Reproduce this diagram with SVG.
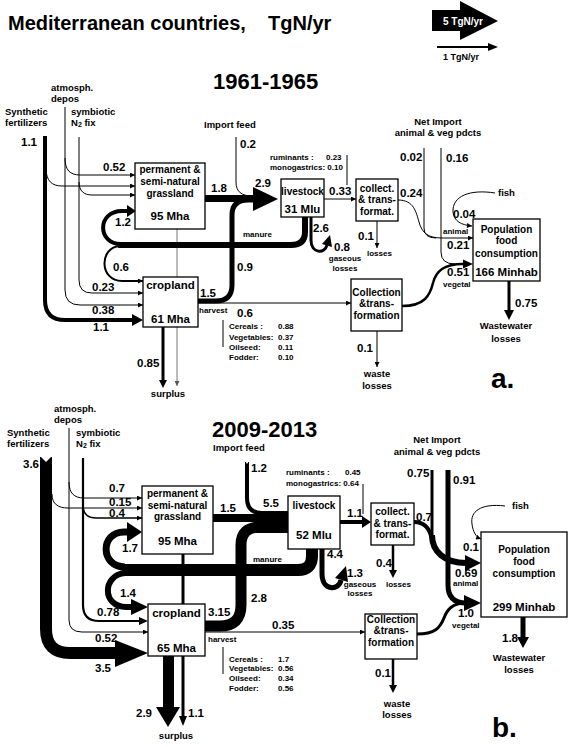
<svg xmlns="http://www.w3.org/2000/svg" width="575" height="747" viewBox="0 0 575 747">
<style>
.t{font-family:"Liberation Sans",Arial,sans-serif;font-weight:bold;fill:#000}
.lb{font-size:11.5px}
.src{font-size:9.5px}
.sm{font-size:8px}
.nd{font-size:10px}
.nn{font-size:11.5px}
.c{text-anchor:middle}
.box{fill:#fff;stroke:#000;stroke-width:1.3}
.ln{fill:none;stroke:#000}
.gr{fill:none;stroke:#777}
</style>
<defs>
<marker id="ah" viewBox="0 0 10 10" refX="10" refY="5" markerWidth="7" markerHeight="5" markerUnits="userSpaceOnUse" orient="auto"><path d="M0,0 L10,5 L0,10 z" fill="#000"/></marker>
<marker id="ahg" viewBox="0 0 10 10" refX="10" refY="5" markerWidth="7" markerHeight="5" markerUnits="userSpaceOnUse" orient="auto"><path d="M0,0 L10,5 L0,10 z" fill="#555"/></marker>
</defs>
<rect width="575" height="747" fill="#fff"/>

<g id="title">
<text class="t" x="8" y="30" font-size="20">Mediterranean countries,</text>
<text class="t" x="268" y="30" font-size="20">TgN/yr</text>
<polygon points="432,10 460,10 460,1 498,21 460,40 460,31 432,31" fill="#000"/>
<text class="t" x="443" y="25" font-size="10" style="fill:#fff">5 TgN/yr</text>
<line x1="437" y1="47" x2="489" y2="47" stroke="#000" stroke-width="2"/>
<polygon points="488,43 498,47 488,51" fill="#000"/>
<text class="t" x="443" y="60" font-size="9">1 TgN/yr</text>
<text class="t" x="213" y="89" font-size="22">1961-1965</text>
<text class="t" x="212" y="437" font-size="22">2009-2013</text>
</g>

<g id="connectors" stroke-width="1">
<!-- panel a -->
<path class="ln" d="M45,136 L45,300 Q45,320 65,320 L133,320" stroke-width="4"/>
<polygon points="132,314 143,320 132,326"/>
<path class="ln" d="M46,168 C46,181 52,186 62,186 L135,186" marker-end="url(#ah)"/>
<path class="ln" d="M65,107 L65,290 Q65,305 80,305 L143,305" marker-end="url(#ah)"/>
<path class="ln" d="M65,158 C65,170 70,175 80,175 L135,175" marker-end="url(#ah)"/>
<path class="ln" d="M79,137 L79,280 Q79,293 92,293 L143,293" marker-end="url(#ah)"/>
<path class="ln" d="M79,182 C79,191 84,195 92,195 L135,195" marker-end="url(#ah)"/>
<rect x="205" y="195" width="49" height="7"/>
<path class="ln" d="M236,137 L236,182 C236,192 242,196 252,196"/>
<path class="ln" d="M198,301 L216,301 Q232,301 232,285 L232,215 Q232,200 248,200 L256,200" stroke-width="5"/>
<polygon points="253,187 278,199 253,211"/>
<path class="ln" d="M198,303 L351,303" marker-end="url(#ah)"/>
<path class="gr" d="M177,229 L177,386" marker-end="url(#ahg)"/>
<path class="ln" d="M163,327 L163,380" stroke-width="3"/>
<polygon points="159,380 163,388 167,380"/>
<path class="ln" d="M324,199 L356,199" marker-end="url(#ah)"/>
<path class="ln" d="M347,155 L347,185"/>
<path class="ln" d="M377,221 L377,248" marker-end="url(#ah)"/>
<path class="ln" d="M398,200 C414,200 416,212 419,222 C422,233 428,238 442,238 L473,238" marker-end="url(#ah)"/>
<path class="ln" d="M424,148 L424,228 Q424,238 436,238"/>
<path class="ln" d="M441,148 L441,252 Q441,264 455,264"/>
<path class="ln" d="M402,306 C425,306 430,295 433,283 C436,271 444,264 463,264" stroke-width="2.5"/>
<polygon points="463,259.5 473,264 463,268.5"/>
<path class="ln" d="M495,193 C470,189 452,196 453,212 C454,221 461,225 472,226" marker-end="url(#ah)"/>
<path class="ln" d="M509,281 L509,311" stroke-width="3"/>
<polygon points="504,310 509,320 514,310"/>
<path class="ln" d="M305,217 L305,232 Q305,245 291,245 L118,245" stroke-width="6"/>
<path class="ln" d="M121,244 C97,244 97,211 122,211 L128,211" stroke-width="4"/>
<polygon points="127,205 136,211 127,217"/>
<path class="ln" d="M120,246 C99,247 99,281 122,281 L143,281" stroke-width="2" marker-end="url(#ah)"/>
<path class="ln" d="M311,217 L311,240 C311,254 325,254 327,245" stroke-width="3"/>
<polygon points="322,244 330,235 332,247"/>
<path class="ln" d="M377,331 L377,367" marker-end="url(#ah)"/>
<path class="ln" d="M223,320 L223,347"/>

<!-- panel b -->
<path class="ln" d="M46,457 L46,629 Q46,653 70,653 L116,653" stroke-width="12"/>
<polygon points="40,456 46,462 52,456" fill="#fff"/>
<polygon points="115,640 148,653 115,667"/>
<path class="ln" d="M52,494 C52,504 58,508 68,508 L142,508" marker-end="url(#ah)"/>
<path class="ln" d="M69,428 L69,620 Q69,632 82,632 L148,632" marker-end="url(#ah)"/>
<path class="ln" d="M69,482 C69,493 74,498 84,498 L142,498" marker-end="url(#ah)"/>
<path class="ln" d="M83,458 L83,605 Q83,621 99,621 L140,621" stroke-width="2.2"/>
<polygon points="139,617 148,621 139,625"/>
<path class="ln" d="M83,505 C83,514 88,518 96,518 L142,518" stroke-width="1.3" marker-end="url(#ah)"/>
<path class="ln" d="M213,518 L258,518" stroke-width="8"/>
<path class="ln" d="M247,462 L247,498 Q247,513 262,513" stroke-width="4"/>
<polygon points="245,461 247,464 249,461" fill="#fff"/>
<rect x="256" y="511" width="33" height="22"/>
<path class="ln" d="M205,626 L220,626 Q241,626 241,605 L241,545 Q241,527 260,527" stroke-width="11"/>
<path class="ln" d="M205,632 L365,632" marker-end="url(#ah)"/>
<path class="ln" d="M183,554 L183,717" stroke-width="3"/>
<polygon points="179,716 183,726 187,716"/>
<rect x="163" y="656" width="11" height="52"/>
<polygon points="156,707 168,727 180,707"/>
<path class="ln" d="M340,522 L363,522" stroke-width="4"/>
<polygon points="362,516 371,522 362,528"/>
<path class="ln" d="M363,484 L363,514"/>
<path class="ln" d="M393,545 L393,571" stroke-width="2.5"/>
<polygon points="389,570 393,578 397,570"/>
<path class="ln" d="M414,522 C424,522 430,528 432,540" stroke-width="4"/>
<path class="ln" d="M432,470 L432,540" stroke-width="3"/>
<path class="ln" d="M432,535 C432,552 445,563 466,563" stroke-width="6"/>
<polygon points="465,555 481,563 465,571"/>
<path class="ln" d="M448,470 L448,585 Q448,603 466,603" stroke-width="5"/>
<path class="ln" d="M417,634 C435,634 440,628 444,618 C447,610 452,603 466,603" stroke-width="3"/>
<polygon points="464,595 481,603 464,611"/>
<path class="ln" d="M505,506 C480,503 470,512 472,524 C473,532 476,537 481,539" marker-end="url(#ah)"/>
<path class="ln" d="M523,617 L523,638" stroke-width="5"/>
<polygon points="517,637 523,648 529,637"/>
<path class="ln" d="M312,549 L312,556 Q312,570 298,570 L122,570" stroke-width="12"/>
<path class="ln" d="M125,567 C100,567 100,532 124,532 L128,532" stroke-width="7"/>
<polygon points="127,522 142,532 127,542"/>
<path class="ln" d="M125,573 C102,575 102,607 126,607 L132,607" stroke-width="6"/>
<polygon points="131,599 148,607 131,615"/>
<path class="ln" d="M322,549 L322,574 C322,591 339,591 341,580" stroke-width="5"/>
<polygon points="335,578 346,566 348,582"/>
<path class="ln" d="M393,659 L393,686" stroke-width="2.5"/>
<polygon points="389,685 393,693 397,685"/>
<path class="ln" d="M223,647 L223,674"/>
</g>

<g id="grassland-a"><rect class="box" x="135" y="163" width="70" height="66"/>
<text class="t nd c" x="170" y="173">permanent &amp;</text><text class="t nd c" x="170" y="185">semi-natural</text><text class="t nd c" x="170" y="197">grassland</text><text class="t nn c" x="170" y="220">95 Mha</text></g>
<g id="livestock-a"><rect class="box" x="281" y="179" width="43" height="38"/>
<text class="t nd c" x="302.5" y="195">livestock</text><text class="t nn c" x="302.5" y="213">31 Mlu</text></g>
<g id="collect-a"><rect class="box" x="356" y="179" width="42" height="42"/>
<text class="t nd c" x="377" y="192">collect.</text><text class="t nd c" x="377" y="203">&amp; trans-</text><text class="t nd c" x="377" y="215">format.</text></g>
<g id="cropland-a"><rect class="box" x="143" y="277" width="55" height="50"/>
<text class="t nn c" x="170.5" y="289">cropland</text><text class="t nn c" x="170.5" y="323">61 Mha</text></g>
<g id="collection-a"><rect class="box" x="351" y="279" width="51" height="52"/>
<text class="t nd c" x="376.5" y="296">Collection</text><text class="t nd c" x="376.5" y="307">&amp;trans-</text><text class="t nd c" x="376.5" y="319">formation</text></g>
<g id="population-a"><rect class="box" x="473" y="219" width="67" height="62"/>
<text class="t nd c" x="506.5" y="233">Population</text><text class="t nd c" x="506.5" y="244">food</text><text class="t nd c" x="506.5" y="257">consumption</text><text class="t nn c" x="506.5" y="276">166 Minhab</text></g>

<g id="grassland-b"><rect class="box" x="142" y="486" width="71" height="68"/>
<text class="t nd c" x="177.5" y="497">permanent &amp;</text><text class="t nd c" x="177.5" y="509">semi-natural</text><text class="t nd c" x="177.5" y="520">grassland</text><text class="t nn c" x="177.5" y="545">95 Mha</text></g>
<g id="livestock-b"><rect class="box" x="288" y="496" width="52" height="53"/>
<text class="t nd c" x="314" y="509">livestock</text><text class="t nn c" x="314" y="539">52 Mlu</text></g>
<g id="collect-b"><rect class="box" x="371" y="503" width="43" height="42"/>
<text class="t nd c" x="392.5" y="515">collect.</text><text class="t nd c" x="392.5" y="527">&amp; trans-</text><text class="t nd c" x="392.5" y="538">format.</text></g>
<g id="cropland-b"><rect class="box" x="148" y="604" width="57" height="52"/>
<text class="t nn c" x="176.5" y="617">cropland</text><text class="t nn c" x="176.5" y="652">65 Mha</text></g>
<g id="collection-b"><rect class="box" x="365" y="614" width="52" height="45"/>
<text class="t nd c" x="391" y="623">Collection</text><text class="t nd c" x="391" y="634">&amp;trans-</text><text class="t nd c" x="391" y="646">formation</text></g>
<g id="population-b"><rect class="box" x="481" y="532" width="86" height="85"/>
<text class="t nd c" x="524" y="553">Population</text><text class="t nd c" x="524" y="565">food</text><text class="t nd c" x="524" y="577">consumption</text><text class="t nn c" x="524" y="611">299 Minhab</text></g>

<g id="labels-a">
<text class="t src" x="51" y="91">atmosph.</text><text class="t src" x="51" y="102">depos</text>
<text class="t src" x="5" y="115">Synthetic</text><text class="t src" x="5" y="126">fertilizers</text>
<text class="t src" x="71" y="115">symbiotic</text><text class="t src" x="71" y="126">N<tspan font-size="7" dy="1">2</tspan><tspan dy="-1"> fix</tspan></text>
<text class="t lb" x="21" y="146">1.1</text>
<text class="t src" x="204" y="128">Import feed</text>
<text class="t lb" x="240" y="148">0.2</text>
<text class="t lb" x="103" y="171">0.52</text>
<text class="t lb" x="211" y="192">1.8</text>
<text class="t lb" x="255" y="187">2.9</text>
<text class="t sm" x="270" y="160">ruminants :</text><text class="t sm" x="326" y="160">0.23</text>
<text class="t sm" x="270" y="170">monogastrics: 0.10</text>
<text class="t lb" x="329" y="195">0.33</text>
<text class="t lb" x="400" y="197">0.24</text>
<text class="t lb" x="358" y="240">0.1</text><text class="t sm" x="367" y="256">losses</text>
<text class="t src c" x="438" y="125">Net Import</text><text class="t src c" x="438" y="136">animal &amp; veg pdcts</text>
<text class="t lb" x="400" y="161">0.02</text><text class="t lb" x="446" y="162">0.16</text>
<text class="t src" x="498" y="196">fish</text>
<text class="t lb" x="453" y="218">0.04</text>
<text class="t sm" x="443" y="234">animal</text>
<text class="t lb" x="447" y="249">0.21</text>
<text class="t lb" x="447" y="276">0.51</text>
<text class="t sm" x="443" y="287">vegetal</text>
<text class="t lb" x="115" y="226">1.2</text>
<text class="t sm" x="243" y="237">manure</text>
<text class="t lb" x="313" y="232">2.6</text>
<text class="t lb" x="334" y="251">0.8</text>
<text class="t sm c" x="345" y="261">gaseous</text><text class="t sm c" x="345" y="271">losses</text>
<text class="t lb" x="113" y="271">0.6</text>
<text class="t lb" x="237" y="271">0.9</text>
<text class="t lb" x="92" y="291">0.23</text>
<text class="t lb" x="92" y="314">0.38</text>
<text class="t lb" x="93" y="331">1.1</text>
<text class="t lb" x="200" y="297">1.5</text>
<text class="t sm" x="199" y="313">harvest</text>
<text class="t lb" x="237" y="317">0.6</text>
<text class="t sm" x="229" y="329">Cereals :</text><text class="t sm" x="278" y="329">0.88</text>
<text class="t sm" x="229" y="340">Vegetables:</text><text class="t sm" x="278" y="340">0.37</text>
<text class="t sm" x="229" y="350">Oilseed:</text><text class="t sm" x="278" y="350">0.11</text>
<text class="t sm" x="229" y="360">Fodder:</text><text class="t sm" x="278" y="360">0.10</text>
<text class="t lb" x="137" y="367">0.85</text>
<text class="t src c" x="168" y="397">surplus</text>
<text class="t lb" x="357" y="352">0.1</text>
<text class="t src c" x="377" y="377">waste</text><text class="t src c" x="377" y="389">losses</text>
<text class="t lb" x="515" y="307">0.75</text>
<text class="t src c" x="506" y="329">Wastewater</text><text class="t src c" x="506" y="342">losses</text>
<text class="t" x="491" y="388" font-size="28">a.</text>
</g>

<g id="labels-b">
<text class="t src" x="54" y="412">atmosph.</text><text class="t src" x="54" y="423">depos</text>
<text class="t src" x="7" y="436">Synthetic</text><text class="t src" x="7" y="447">fertilizers</text>
<text class="t src" x="76" y="436">symbiotic</text><text class="t src" x="76" y="447">N<tspan font-size="7" dy="1">2</tspan><tspan dy="-1"> fix</tspan></text>
<text class="t src" x="213" y="451">Import feed</text>
<text class="t lb" x="23" y="468">3.6</text>
<text class="t lb" x="251" y="472">1.2</text>
<text class="t sm" x="286" y="475">ruminants :</text><text class="t sm" x="345" y="475">0.45</text>
<text class="t sm" x="286" y="486">monogastrics: 0.64</text>
<text class="t src c" x="437" y="443">Net Import</text><text class="t src c" x="437" y="455">animal &amp; veg pdcts</text>
<text class="t lb" x="407" y="477">0.75</text><text class="t lb" x="453" y="484">0.91</text>
<text class="t lb" x="109" y="492">0.7</text>
<text class="t lb" x="109" y="506">0.15</text>
<text class="t lb" x="109" y="517">0.4</text>
<text class="t lb" x="220" y="512">1.5</text>
<text class="t lb" x="263" y="507">5.5</text>
<text class="t lb" x="347" y="517">1.1</text>
<text class="t lb" x="416" y="521">0.7</text>
<text class="t src" x="512" y="509">fish</text>
<text class="t lb" x="463" y="551">0.1</text>
<text class="t lb" x="122" y="552">1.7</text>
<text class="t sm" x="253" y="562">manure</text>
<text class="t lb" x="327" y="558">4.4</text>
<text class="t lb" x="347" y="577">1.3</text>
<text class="t sm c" x="360" y="587">gaseous</text><text class="t sm c" x="360" y="596">losses</text>
<text class="t lb" x="376" y="567">0.4</text><text class="t sm" x="386" y="587">losses</text>
<text class="t lb" x="455" y="577">0.69</text><text class="t sm" x="453" y="586">animal</text>
<text class="t lb" x="120" y="597">1.4</text>
<text class="t lb" x="251" y="602">2.8</text>
<text class="t lb" x="97" y="616">0.78</text>
<text class="t lb" x="208" y="616">3.15</text>
<text class="t lb" x="272" y="629">0.35</text>
<text class="t lb" x="458" y="617">1.0</text><text class="t sm" x="452" y="628">vegetal</text>
<text class="t lb" x="95" y="642">0.52</text>
<text class="t sm" x="208" y="642">harvest</text>
<text class="t sm" x="229" y="662">Cereals :</text><text class="t sm" x="278" y="662">1.7</text>
<text class="t sm" x="229" y="671">Vegetables:</text><text class="t sm" x="278" y="671">0.56</text>
<text class="t sm" x="229" y="681">Oilseed:</text><text class="t sm" x="278" y="681">0.34</text>
<text class="t sm" x="229" y="691">Fodder:</text><text class="t sm" x="278" y="691">0.56</text>
<text class="t lb" x="95" y="672">3.5</text>
<text class="t lb" x="502" y="642">1.8</text>
<text class="t src c" x="519" y="661">Wastewater</text><text class="t src c" x="519" y="673">losses</text>
<text class="t lb" x="375" y="677">0.1</text>
<text class="t src c" x="397" y="707">waste</text><text class="t src c" x="397" y="718">losses</text>
<text class="t lb" x="136" y="717">2.9</text><text class="t lb" x="188" y="717">1.1</text>
<text class="t src c" x="176" y="739">surplus</text>
<text class="t" x="492" y="737" font-size="28">b.</text>
</g>
</svg>
